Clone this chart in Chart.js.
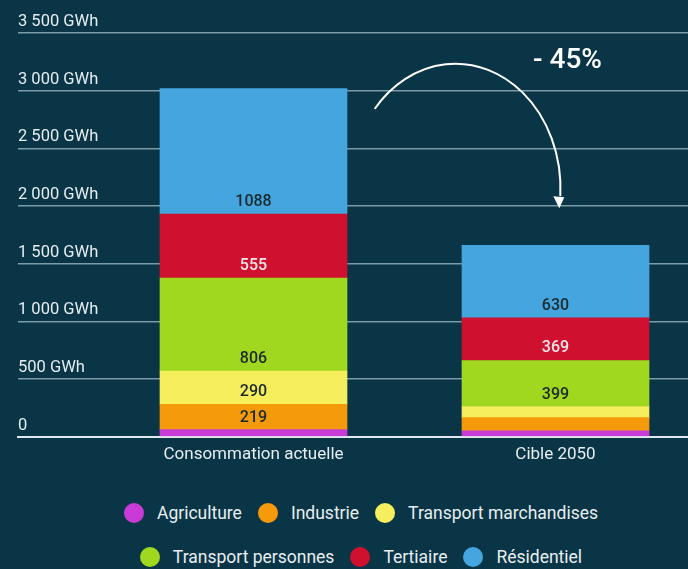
<!DOCTYPE html>
<html lang="fr">
<head>
    <meta charset="UTF-8">
    <title>Consommation d'énergie</title>
    <script src="https://cdn.jsdelivr.net/npm/chart.js"></script>
    <style>
        html, body {
            margin: 0;
            padding: 0;
            background: #0a3546;
            width: 688px;
            height: 569px;
            overflow: hidden;
            font-family: Roboto, "Noto Sans", Arial, sans-serif;
        }
        .chart-box {
            position: absolute;
            left: 0;
            top: 0;
            width: 688px;
            height: 480px;
        }
        .legend-row {
            position: absolute;
            left: 34px;
            right: 0;
            height: 26px;
            display: flex;
            justify-content: center;
            align-items: center;
        }
        .legend-item {
            display: flex;
            align-items: center;
            margin: 0 8px;
            color: #e8eef0;
            font-size: 17.5px;
        }
        .legend-dot {
            width: 20px;
            height: 20px;
            border-radius: 50%;
            margin-right: 13px;
        }
    </style>
</head>
<body>
    <div class="chart-box">
        <canvas id="chart"></canvas>
    </div>
    <div class="legend-row" id="row1" style="top:500px"></div>
    <div class="legend-row" id="row2" style="top:544px"></div>

    <script>
        // données
        const categories = ['Consommation actuelle', 'Cible 2050'];
        const sectors = ['Agriculture', 'Industrie', 'Transport marchandises', 'Transport personnes', 'Tertiaire', 'Résidentiel'];
        const agriculture = [60, 50];
        const industrie = [219, 115];
        const transportMarchandises = [290, 96];
        const transportPersonnes = [806, 399];
        const tertiaire = [555, 369];
        const residentiel = [1088, 630];
        const yTicks = [0, 500, 1000, 1500, 2000, 2500, 3000, 3500];
        const reductionLabel = '- 45%';

        const colors = ['#c93bd6', '#f59a0a', '#f6ee5c', '#9fd81e', '#d0102f', '#45a6df'];
        const labelColors = ['#1c2a2f', '#1c2a2f', '#1c2a2f', '#1c2a2f', '#f4e6ea', '#1c2a2f'];
        const series = [agriculture, industrie, transportMarchandises, transportPersonnes, tertiaire, residentiel];

        function fmtGWh(v) {
            if (v === 0) return '0';
            return String(v).replace(/\B(?=(\d{3})+(?!\d))/g, ' ') + ' GWh';
        }

        // valeurs dans les segments
        const valueLabels = {
            id: 'valueLabels',
            afterDatasetsDraw(chart) {
                const ctx = chart.ctx;
                ctx.save();
                ctx.font = '500 16px Roboto';
                ctx.textAlign = 'center';
                ctx.textBaseline = 'middle';
                chart.data.datasets.forEach((ds, di) => {
                    const meta = chart.getDatasetMeta(di);
                    meta.data.forEach((el, i) => {
                        const v = series[di][i];
                        if (v < 200) return;
                        ctx.fillStyle = labelColors[di];
                        ctx.fillText(String(v), el.x, el.base - 12);
                    });
                });
                ctx.restore();
            }
        };

        // flèche - 45%
        const arrow = {
            id: 'arrow',
            afterDraw(chart) {
                const ctx = chart.ctx;
                const xs = chart.scales.x, ys = chart.scales.y;
                const cx = xs.getPixelForValue(1) - 100;
                const cy = ys.getPixelForValue(2150);
                const rx = 105, ry = 125;
                ctx.save();
                ctx.strokeStyle = '#ffffff';
                ctx.fillStyle = '#ffffff';
                ctx.lineWidth = 2;
                ctx.beginPath();
                ctx.ellipse(cx, cy, rx, ry, 0, -2.45, 0.06);
                ctx.stroke();
                const tipX = cx + rx * Math.cos(0.06) - 1;
                const tipY = cy + ry * Math.sin(0.06) + 12;
                ctx.beginPath();
                ctx.moveTo(tipX, tipY);
                ctx.lineTo(tipX - 6, tipY - 12);
                ctx.lineTo(tipX + 5, tipY - 11);
                ctx.closePath();
                ctx.fill();
                ctx.font = '500 28px Roboto';
                ctx.textAlign = 'center';
                ctx.textBaseline = 'middle';
                ctx.fillText(reductionLabel, xs.getPixelForValue(1) + 12, ys.getPixelForValue(3255));
                ctx.restore();
            }
        };

        new Chart(document.getElementById('chart'), {
            type: 'bar',
            data: {
                datasets: sectors.map((name, di) => ({
                    label: name,
                    data: series[di].map((v, i) => ({ x: i, y: v })),
                    backgroundColor: colors[di],
                    borderWidth: 0,
                    barThickness: 187,
                    stack: 'total'
                }))
            },
            options: {
                responsive: true,
                maintainAspectRatio: false,
                animation: false,
                layout: { padding: { left: 18, right: 0, top: 33, bottom: 7 } },
                plugins: {
                    legend: { display: false },
                    tooltip: { enabled: false }
                },
                scales: {
                    x: {
                        type: 'linear',
                        offset: false,
                        min: -0.7798,
                        max: 1.4387,
                        afterBuildTicks: (axis) => { axis.ticks = categories.map((c, i) => ({ value: i })); },
                        grid: { display: false, drawTicks: false },
                        border: { display: true, color: '#dfe8ec', width: 2 },
                        ticks: {
                            color: '#e8eef0',
                            font: { family: 'Roboto', size: 17 },
                            padding: 8,
                            callback: (v) => categories[v]
                        }
                    },
                    y: {
                        stacked: true,
                        min: 0,
                        max: 3500,
                        afterBuildTicks: (axis) => { axis.ticks = yTicks.map(v => ({ value: v })); },
                        grid: { color: 'rgba(160,190,200,0.75)', lineWidth: 1.5, drawTicks: false },
                        border: { display: false },
                        ticks: {
                            mirror: true,
                            padding: 0,
                            labelOffset: -11,
                            color: '#e6edf0',
                            font: { family: 'Roboto', size: 16.5 },
                            callback: (v) => fmtGWh(v)
                        }
                    }
                }
            },
            plugins: [valueLabels, arrow]
        });

        // légende
        const rows = [document.getElementById('row1'), document.getElementById('row2')];
        sectors.forEach((name, i) => {
            const item = document.createElement('div');
            item.className = 'legend-item';
            item.innerHTML = '<span class="legend-dot" style="background:' + colors[i] + '"></span>' + name;
            rows[i < 3 ? 0 : 1].appendChild(item);
        });
    </script>
</body>
</html>
